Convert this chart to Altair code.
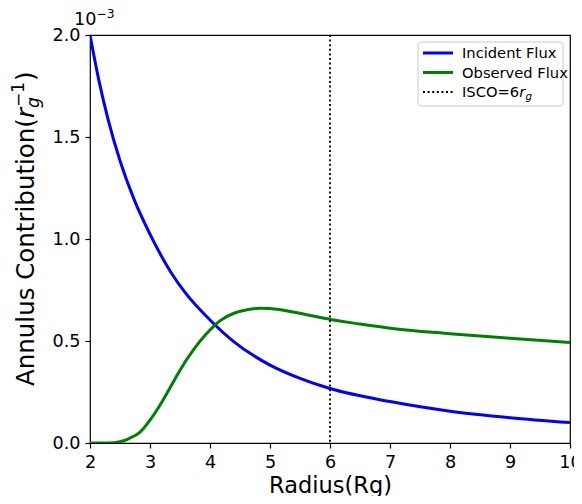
import altair as alt
import pandas as pd

# ---- data (values in units of 1e-3) ----
radius_incident = [2.0, 2.15, 2.3, 2.5, 2.75, 3.0, 3.35, 3.6, 4.0, 4.4, 5.0, 5.5, 6.0, 7.0, 8.0, 9.0, 10.0]
flux_incident = [2.00, 1.775, 1.588, 1.384, 1.183, 1.024, 0.836, 0.732, 0.603, 0.496, 0.382, 0.317, 0.267, 0.203, 0.156, 0.124, 0.100]

radius_observed = [2.0, 2.3, 2.5, 2.65, 2.83, 3.0, 3.15, 3.28, 3.4, 3.5, 3.72, 3.94, 4.17, 4.4, 4.6, 4.83, 5.0, 5.22, 5.61, 6.0, 6.5, 7.0, 8.0, 9.0, 10.0]
flux_observed = [0.0, 0.0, 0.006, 0.022, 0.052, 0.112, 0.178, 0.243, 0.305, 0.357, 0.455, 0.535, 0.6, 0.636, 0.652, 0.66, 0.659, 0.651, 0.629, 0.606, 0.583, 0.563, 0.536, 0.513, 0.493]

isco_radius = [6.0]
series_names = ["Incident Flux", "Observed Flux"]
series_colors = ["#0000ff", "#008000"]
x_ticks = [2, 3, 4, 5, 6, 7, 8, 9, 10]
y_ticks = [0.0, 0.5, 1.0, 1.5, 2.0]

df = pd.concat([
    pd.DataFrame({"radius": radius_incident, "flux": flux_incident, "series": series_names[0], "o": 0}),
    pd.DataFrame({"radius": radius_observed, "flux": flux_observed, "series": series_names[1], "o": 1}),
], ignore_index=True)

FONT = "DejaVu Sans"
x_scale = alt.Scale(domain=[2, 10], nice=False, zero=False)
y_scale = alt.Scale(domain=[0, 2], nice=False, zero=False)

lines = alt.Chart(df).mark_line(strokeWidth=3, interpolate="monotone", clip=True).encode(
    x=alt.X("radius:Q", scale=x_scale,
            axis=alt.Axis(values=x_ticks, format="d", title="Radius(Rg)",
                          titleBaseline="alphabetic", titleY=49, titleFontSize=22.5)),
    y=alt.Y("flux:Q", scale=y_scale,
            axis=alt.Axis(values=y_ticks, format=".1f", title=None)),
    color=alt.Color("series:N", scale=alt.Scale(domain=series_names, range=series_colors), legend=None),
    order="o:Q",
)

isco = alt.Chart(pd.DataFrame({"r": isco_radius})).mark_rule(
    color="black", strokeWidth=1.8, strokeDash=[2, 2.6]
).encode(x=alt.X("r:Q", scale=x_scale))


def txt(text, x, y, size, angle=0, italic=False, align="left", baseline="alphabetic"):
    kw = dict(text=text, fontSize=size, font=FONT, align=align, baseline=baseline, color="black")
    if angle:
        kw["angle"] = angle
    if italic:
        kw["fontStyle"] = "italic"
    return alt.Chart(pd.DataFrame({"a": [0]})).mark_text(**kw).encode(
        x=alt.value(x), y=alt.value(y))


# y-axis title with math parts
yb = -56
ytitle = [
    txt("Annulus Contribution(", yb, 351, 24.5, angle=270),
    txt("r", yb, 83, 24.5, angle=270, italic=True),
    txt("g", yb + 5, 73, 17, angle=270, italic=True),
    txt("\u22121", yb - 10.5, 72, 17, angle=270),
    txt(")", yb, 46, 24.5, angle=270),
]

# offset text 10^-3
offset = [
    txt("10", -16, -10, 17.6),
    txt("\u22123", 6.5, -17, 12.3),
]

# legend
legend_box = alt.Chart(pd.DataFrame({"a": [0]})).mark_rect(
    fill="white", fillOpacity=0.8, stroke="#cccccc", strokeWidth=1, cornerRadius=3
).encode(x=alt.value(328), x2=alt.value(473), y=alt.value(7), y2=alt.value(71))


def handle(y, color, dash=None, width=3):
    kw = dict(color=color, strokeWidth=width)
    if dash:
        kw["strokeDash"] = dash
    return alt.Chart(pd.DataFrame({"a": [0]})).mark_rule(**kw).encode(
        x=alt.value(333), x2=alt.value(363), y=alt.value(y))


legend = [
    legend_box,
    handle(18, series_colors[0]),
    handle(37.5, series_colors[1]),
    handle(57, "black", dash=[2, 2.6], width=1.8),
    txt(series_names[0], 372, 23.4, 14.7),
    txt(series_names[1], 372, 42.9, 14.7),
    txt("ISCO=6", 372, 62.4, 14.7),
    txt("r", 429.2, 62.4, 14.7, italic=True),
    txt("g", 435.4, 65.4, 10.3, italic=True),
]

chart = alt.layer(lines, isco, *ytitle, *offset, *legend).properties(
    width=480, height=408,
    autosize=alt.AutoSizeParams(type="none"),
    padding={"left": 82, "top": 27, "right": 4, "bottom": 53},
).configure_view(
    stroke="black", strokeWidth=1.2
).configure_axis(
    domain=False, grid=False, tickColor="black", tickWidth=1.2, tickSize=5,
    labelFont=FONT, labelFontSize=17.6, labelColor="black", labelPadding=5, labelFlush=False,
    titleFont=FONT, titleFontSize=23.5, titleFontWeight="normal", titleColor="black",
)

chart.save("out.html", embed_options={"renderer": "svg", "actions": False})
